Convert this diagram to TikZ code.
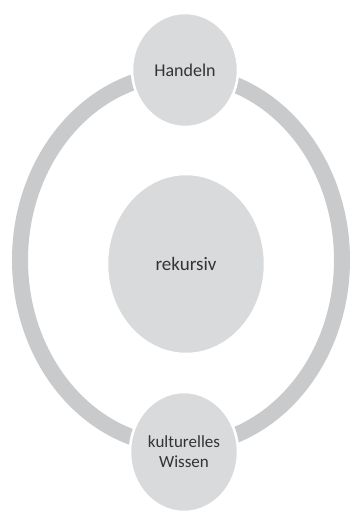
\documentclass[tikz,border=0pt]{standalone}
\usepackage{fontspec}
\setmainfont{Carlito}
\usepackage{xcolor}
\usetikzlibrary{shapes.geometric}
\definecolor{ringgrey}{HTML}{C9CACC}
\definecolor{bubblegrey}{HTML}{D9DADC}
\definecolor{textgrey}{HTML}{333333}

\begin{document}
\begin{tikzpicture}[
  x=1pt, y=1pt,
  bubble/.style={
    ellipse,
    fill=bubblegrey,
    draw=white,
    line width=2.5pt,
    inner sep=0pt,
    align=center,
    text=textgrey,
    font=\fontsize{18}{20}\selectfont
  }
]
  \useasboundingbox (0,0) rectangle (353,515);
  % ring behind the bubbles
  \draw[ringgrey, line width=16pt] (181,255) ellipse [x radius=161, y radius=186];
  \node[bubble, minimum width=106pt, minimum height=114pt] (handeln) at (185,445) {Handeln};
  \node[bubble, minimum width=158pt, minimum height=180pt,
    font=\fontsize{19}{21}\selectfont] (rekursiv) at (186,251) {rekursiv};
  \node[bubble, minimum width=108pt, minimum height=120pt,
    font=\fontsize{17}{20}\selectfont] (wissen) at (184,63) {kulturelles\\Wissen};
\end{tikzpicture}
\end{document}
